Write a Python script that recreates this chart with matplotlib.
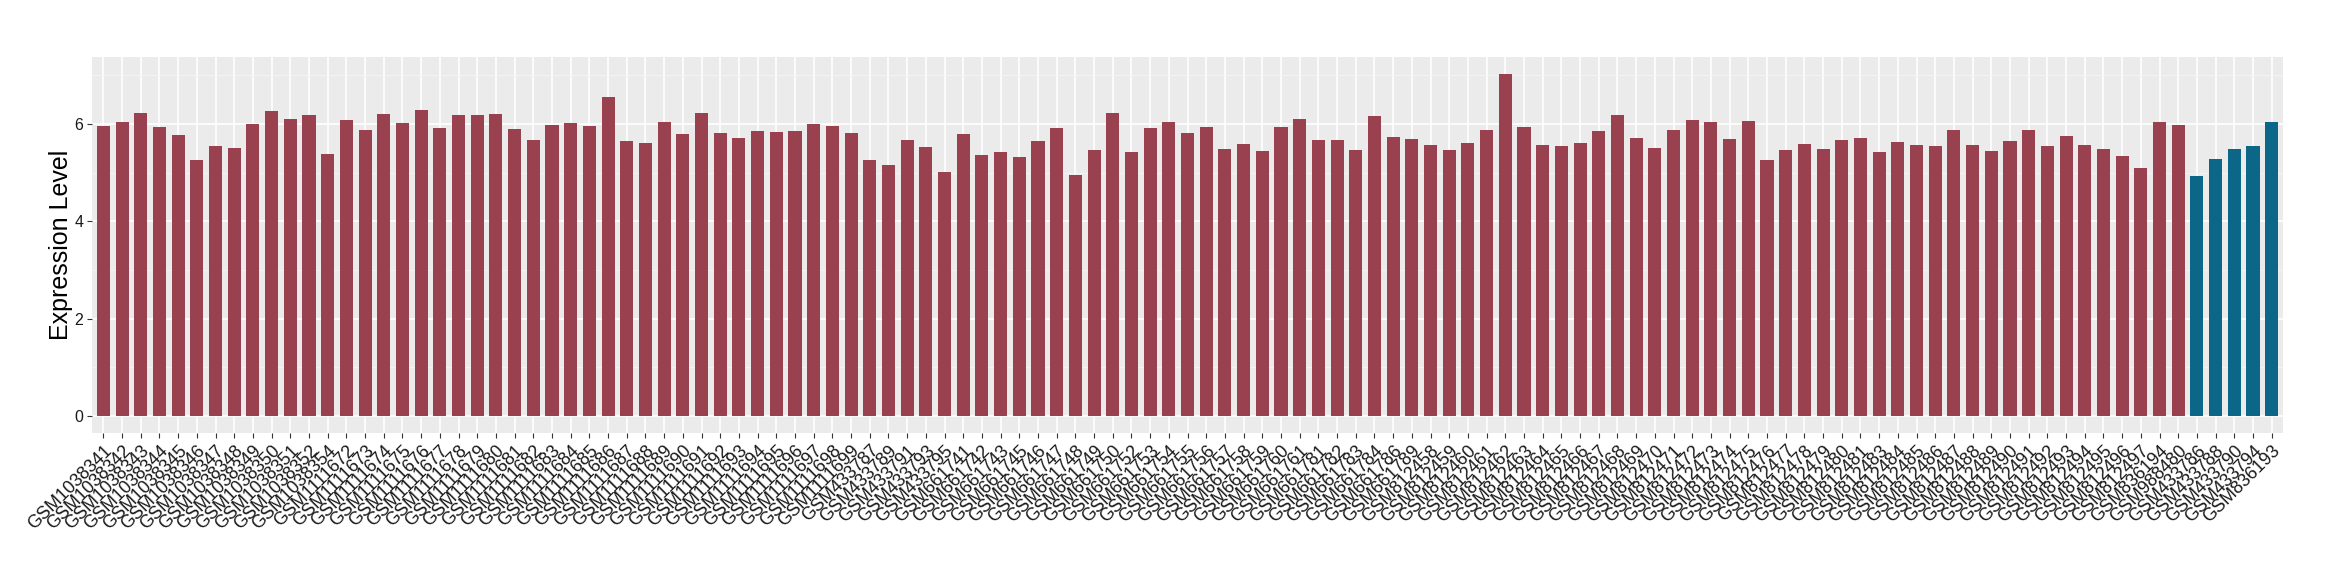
import numpy as np
import matplotlib
matplotlib.use("Agg")
import matplotlib.pyplot as plt

plt.rcParams['font.family'] = ['Liberation Sans', 'DejaVu Sans']

# sample ids (group 1 = red, group 2 = blue)
samples_red = (
    ['GSM10383%02d' % n for n in [41, 42, 43, 44, 45, 46, 47, 48, 49, 50, 51, 52, 54]]
    + ['GSM11116%02d' % n for n in range(72, 100)]
    + ['GSM4337%02d' % n for n in [87, 89, 91, 93, 95]]
    + ['GSM6617%02d' % n for n in [41, 42, 43, 45, 46, 47, 48, 49, 50, 52, 53, 54, 55,
                                    56, 57, 58, 59, 60, 61, 81, 82, 83, 84, 86, 89]]
    + ['GSM8124%02d' % n for n in [58, 59, 60, 61, 62, 63, 64, 65, 66, 67, 68, 69, 70,
                                    71, 72, 73, 74, 75, 76, 77, 78, 79, 80, 81, 83, 84,
                                    85, 86, 87, 88, 89, 90, 91, 92, 93, 94, 95, 96, 97]]
    + ['GSM836194', 'GSM988480']
)
samples_blue = ['GSM433786', 'GSM433788', 'GSM433790', 'GSM433794', 'GSM836193']

expr_red = [
    5.96, 6.04, 6.23, 5.94, 5.77, 5.26, 5.55, 5.51, 6.00, 6.27, 6.10, 6.18, 5.38,
    6.08, 5.88, 6.21, 6.02, 6.29, 5.92, 6.18, 6.18, 6.21, 5.90, 5.67, 5.98, 6.02,
    5.96, 6.55, 5.65, 5.61, 6.04, 5.79, 6.23, 5.82, 5.71, 5.86, 5.84, 5.86, 6.00,
    5.96, 5.82,
    5.26, 5.16, 5.67, 5.53, 5.01,
    5.79, 5.36, 5.42, 5.32, 5.65, 5.92, 4.95, 5.47, 6.23, 5.42, 5.92, 6.04, 5.82,
    5.94, 5.49, 5.59, 5.45, 5.94, 6.10, 5.67, 5.67, 5.47, 6.16, 5.73, 5.69,
    5.57, 5.47, 5.61, 5.88, 7.03, 5.94, 5.57, 5.55, 5.61, 5.86, 6.18, 5.71, 5.51,
    5.88, 6.08, 6.04, 5.69, 6.06, 5.26, 5.47, 5.59, 5.49, 5.67, 5.71, 5.42, 5.63,
    5.57, 5.55, 5.88, 5.57, 5.45, 5.65, 5.88, 5.55, 5.75, 5.57, 5.49, 5.34, 5.10,
    6.04, 5.98,
]
expr_blue = [4.93, 5.28, 5.49, 5.55, 6.04]

labels = samples_red + samples_blue
values = expr_red + expr_blue
colors = ['#9A4150'] * len(expr_red) + ['#0B6687'] * len(expr_blue)

fig = plt.figure(figsize=(23.4, 5.8), dpi=100)
ax = fig.add_axes([0.0394, 0.2534, 0.9362, 0.6483])
ax.set_facecolor('#EBEBEB')

x = np.arange(len(values))
ax.bar(x, values, width=0.7, color=colors, zorder=3)

ax.set_xlim(-0.6, len(values) - 0.4)
ax.set_ylim(-0.352, 7.38)
ax.set_yticks([0, 2, 4, 6])
ax.set_yticks([1, 3, 5, 7], minor=True)
ax.set_xticks(x)
ax.set_xticklabels(labels, rotation=45, ha='right', va='top', rotation_mode='anchor')

ax.grid(True, which='major', color='white', linewidth=1.2, zorder=0)
ax.grid(True, which='minor', axis='y', color='#F5F5F5', linewidth=0.6, zorder=0)
ax.set_axisbelow(True)
for s in ax.spines.values():
    s.set_visible(False)

ax.tick_params(axis='both', which='major', length=3.5, width=0.8, color='#333333')
ax.tick_params(axis='y', which='minor', length=0)
ax.tick_params(axis='x', labelsize=13, labelcolor='#1A1A1A', pad=3)
ax.tick_params(axis='y', labelsize=11.5, labelcolor='#1A1A1A', pad=3)

ax.set_ylabel('Expression Level', fontsize=18, labelpad=1)

fig.savefig('out.png', dpi=100)
